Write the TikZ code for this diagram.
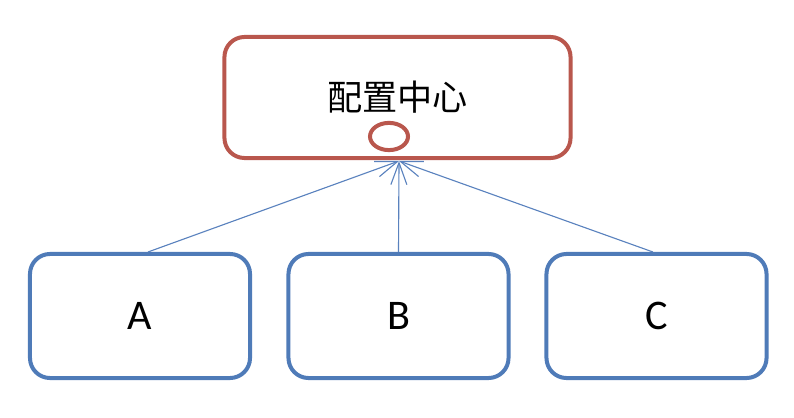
\documentclass[tikz,border=0pt]{standalone}
\usepackage{fontspec}
\setmainfont{Carlito}
\newfontfamily\cjk{Noto Sans CJK SC}
\usepackage{xcolor}
\usepackage{tikz}
\usetikzlibrary{arrows.meta, shapes.geometric}
\definecolor{brick}{HTML}{B9574D}
\definecolor{steel}{HTML}{4F7BB8}
\definecolor{wire}{HTML}{5A82BE}

\begin{document}
\begin{tikzpicture}[
  x=0.025cm, y=-0.025cm,
  center/.style={rectangle, rounded corners=0.5cm, draw=brick, line width=0.1cm,
                 minimum width=8.65cm, minimum height=3.025cm, inner sep=0pt,
                 font=\cjk\fontsize{25}{30}\selectfont},
  client/.style={rectangle, rounded corners=0.5cm, draw=steel, line width=0.1cm,
                 minimum width=5.5cm, minimum height=3.1cm, inner sep=0pt,
                 font=\fontsize{30}{36}\selectfont},
  port/.style={ellipse, draw=brick, line width=0.1cm, inner sep=0pt,
               minimum width=0.95cm, minimum height=0.68cm},
  arr/.style={-{Straight Barb[length=0.55cm, width=0.4cm]}, draw=wire, line width=0.8pt},
]
\useasboundingbox (0,0) rectangle (794,418);
% ---------------- config center
\node[center] (cfg) at (397.5,97.5) {配置中心};
\node[port] (cfgport) at (389,136.5) {};
\coordinate (tip) at (399,161);
% ---------------- clients
\node[client] (A) at (140,316) {A};
\node[client] (B) at (398.5,316) {B};
\node[client] (C) at (656.5,316) {C};
\draw[arr] ([xshift=0.2cm]A.north) -- (tip);
\draw[arr] (B.north) -- (tip);
\draw[arr] ([xshift=-0.09cm]C.north) -- (tip);
\end{tikzpicture}
\end{document}
